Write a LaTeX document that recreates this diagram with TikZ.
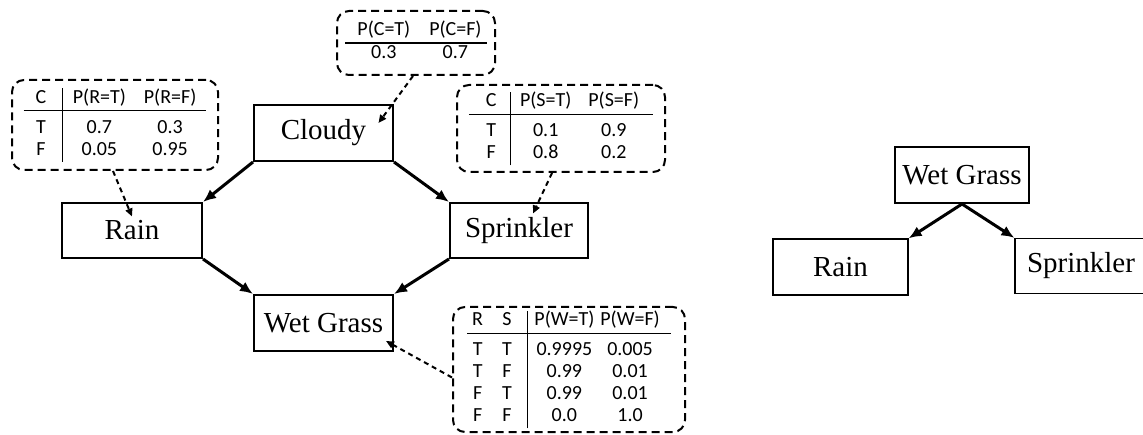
\documentclass[tikz,border=0pt]{standalone}
\usepackage{fontspec}
\setmainfont{Liberation Serif}
\newfontfamily\cptfont{Carlito}
\usetikzlibrary{arrows.meta}
\setlength\arrayrulewidth{1.2pt}
\newcommand{\rowstrut}{\rule{0pt}{22pt}}

\begin{document}
\begin{tikzpicture}[x=1pt,y=-1pt,
    var/.style={draw,line width=2pt,minimum width=139pt,minimum height=56pt,inner sep=0pt,font=\fontsize{29}{32}\selectfont},
    cpt/.style={draw,line width=2pt,dash pattern=on 8pt off 5pt,rounded corners=12pt,inner sep=0pt,font=\cptfont\fontsize{20}{22}\selectfont},
    causal/.style={-{Latex[length=13pt,width=11pt]},line width=3pt},
    cptlink/.style={-{Triangle[length=8pt,width=7pt]},line width=2pt,dash pattern=on 5pt off 4pt}]
    \useasboundingbox (0,0) rectangle (1143,435);

    % the network
    \node[var] (cloudy) at (323.5,133) {Cloudy};
    \node[var,minimum width=140pt,minimum height=55pt] (rain) at (132,230.5) {Rain};
    \node[var,minimum width=138pt,minimum height=55pt] (sprinkler) at (519,230.5) {Sprinkler};
    \node[var] (wet) at (323.5,323) {Wet Grass};
    \draw[causal] (cloudy.south west) -- (rain.north east);
    \draw[causal] (cloudy.south east) -- (sprinkler.north west);
    \draw[causal] (rain.south east) -- (wet.north west);
    \draw[causal] (sprinkler.south west) -- (wet.north east);

    % probability tables
    \node[cpt,minimum width=158pt,minimum height=64pt] (cptC) at (416,43)
        {\begin{tabular}{@{\hskip12pt}c@{\hskip19pt}c@{\hskip5pt}}
            P(C=T) & P(C=F)\\ \hline
            0.3 & 0.7
        \end{tabular}};
    \node[cpt,minimum width=206pt,minimum height=90pt] (cptR) at (115,125)
        {\begin{tabular}{@{\hskip12pt}c@{\hskip16pt}|@{\hskip10pt}c@{\hskip18pt}c@{\hskip10pt}}
            C & P(R=T) & P(R=F)\\ \hline
            \rowstrut T & 0.7 & 0.3\\
            F & 0.05 & 0.95
        \end{tabular}};
    \node[cpt,minimum width=208pt,minimum height=87pt] (cptS) at (561,128.5)
        {\begin{tabular}{@{\hskip17pt}c@{\hskip14pt}|@{\hskip9pt}c@{\hskip17pt}c@{\hskip14pt}}
            C & P(S=T) & P(S=F)\\ \hline
            \rowstrut T & 0.1 & 0.9\\
            F & 0.8 & 0.2
        \end{tabular}};
    \node[cpt,minimum width=232pt,minimum height=125pt] (cptW) at (569,369.5)
        {\begin{tabular}{@{\hskip5pt}c@{\hskip19pt}c@{\hskip16pt}|@{\hskip6pt}c@{\hskip6pt}c@{\hskip11pt}}
            R & S & P(W=T) & P(W=F)\\ \hline
            \rowstrut T & T & 0.9995 & 0.005\\
            T & F & 0.99 & 0.01\\
            F & T & 0.99 & 0.01\\
            F & F & 0.0 & 1.0
        \end{tabular}};
    \draw[cptlink] ([xshift=-3pt]cptC.south) -- ([xshift=55pt,yshift=10pt]cloudy.center);
    \draw[cptlink] ([xshift=-2pt]cptR.south) -- ([yshift=14pt]rain.center);
    \draw[cptlink] ([xshift=-9pt]cptS.south) -- ([xshift=14pt,yshift=17pt]sprinkler.center);
    \draw[cptlink] ([yshift=-8pt]cptW.west) -- ([xshift=-8pt,yshift=11pt]wet.south east);

    % reversed network on the right
    \node[var,minimum width=134pt] (wet2) at (962,175) {Wet Grass};
    \node[var,line width=1.2pt,minimum width=135pt] (rain2) at (840.5,267) {Rain};
    \node[var,line width=1.2pt,minimum width=132pt,minimum height=55pt] (sprinkler2) at (1081,266) {Sprinkler};
    \draw[causal] (wet2.south) -- (rain2.north east);
    \draw[causal] (wet2.south) -- (sprinkler2.north west);
\end{tikzpicture}
\end{document}
